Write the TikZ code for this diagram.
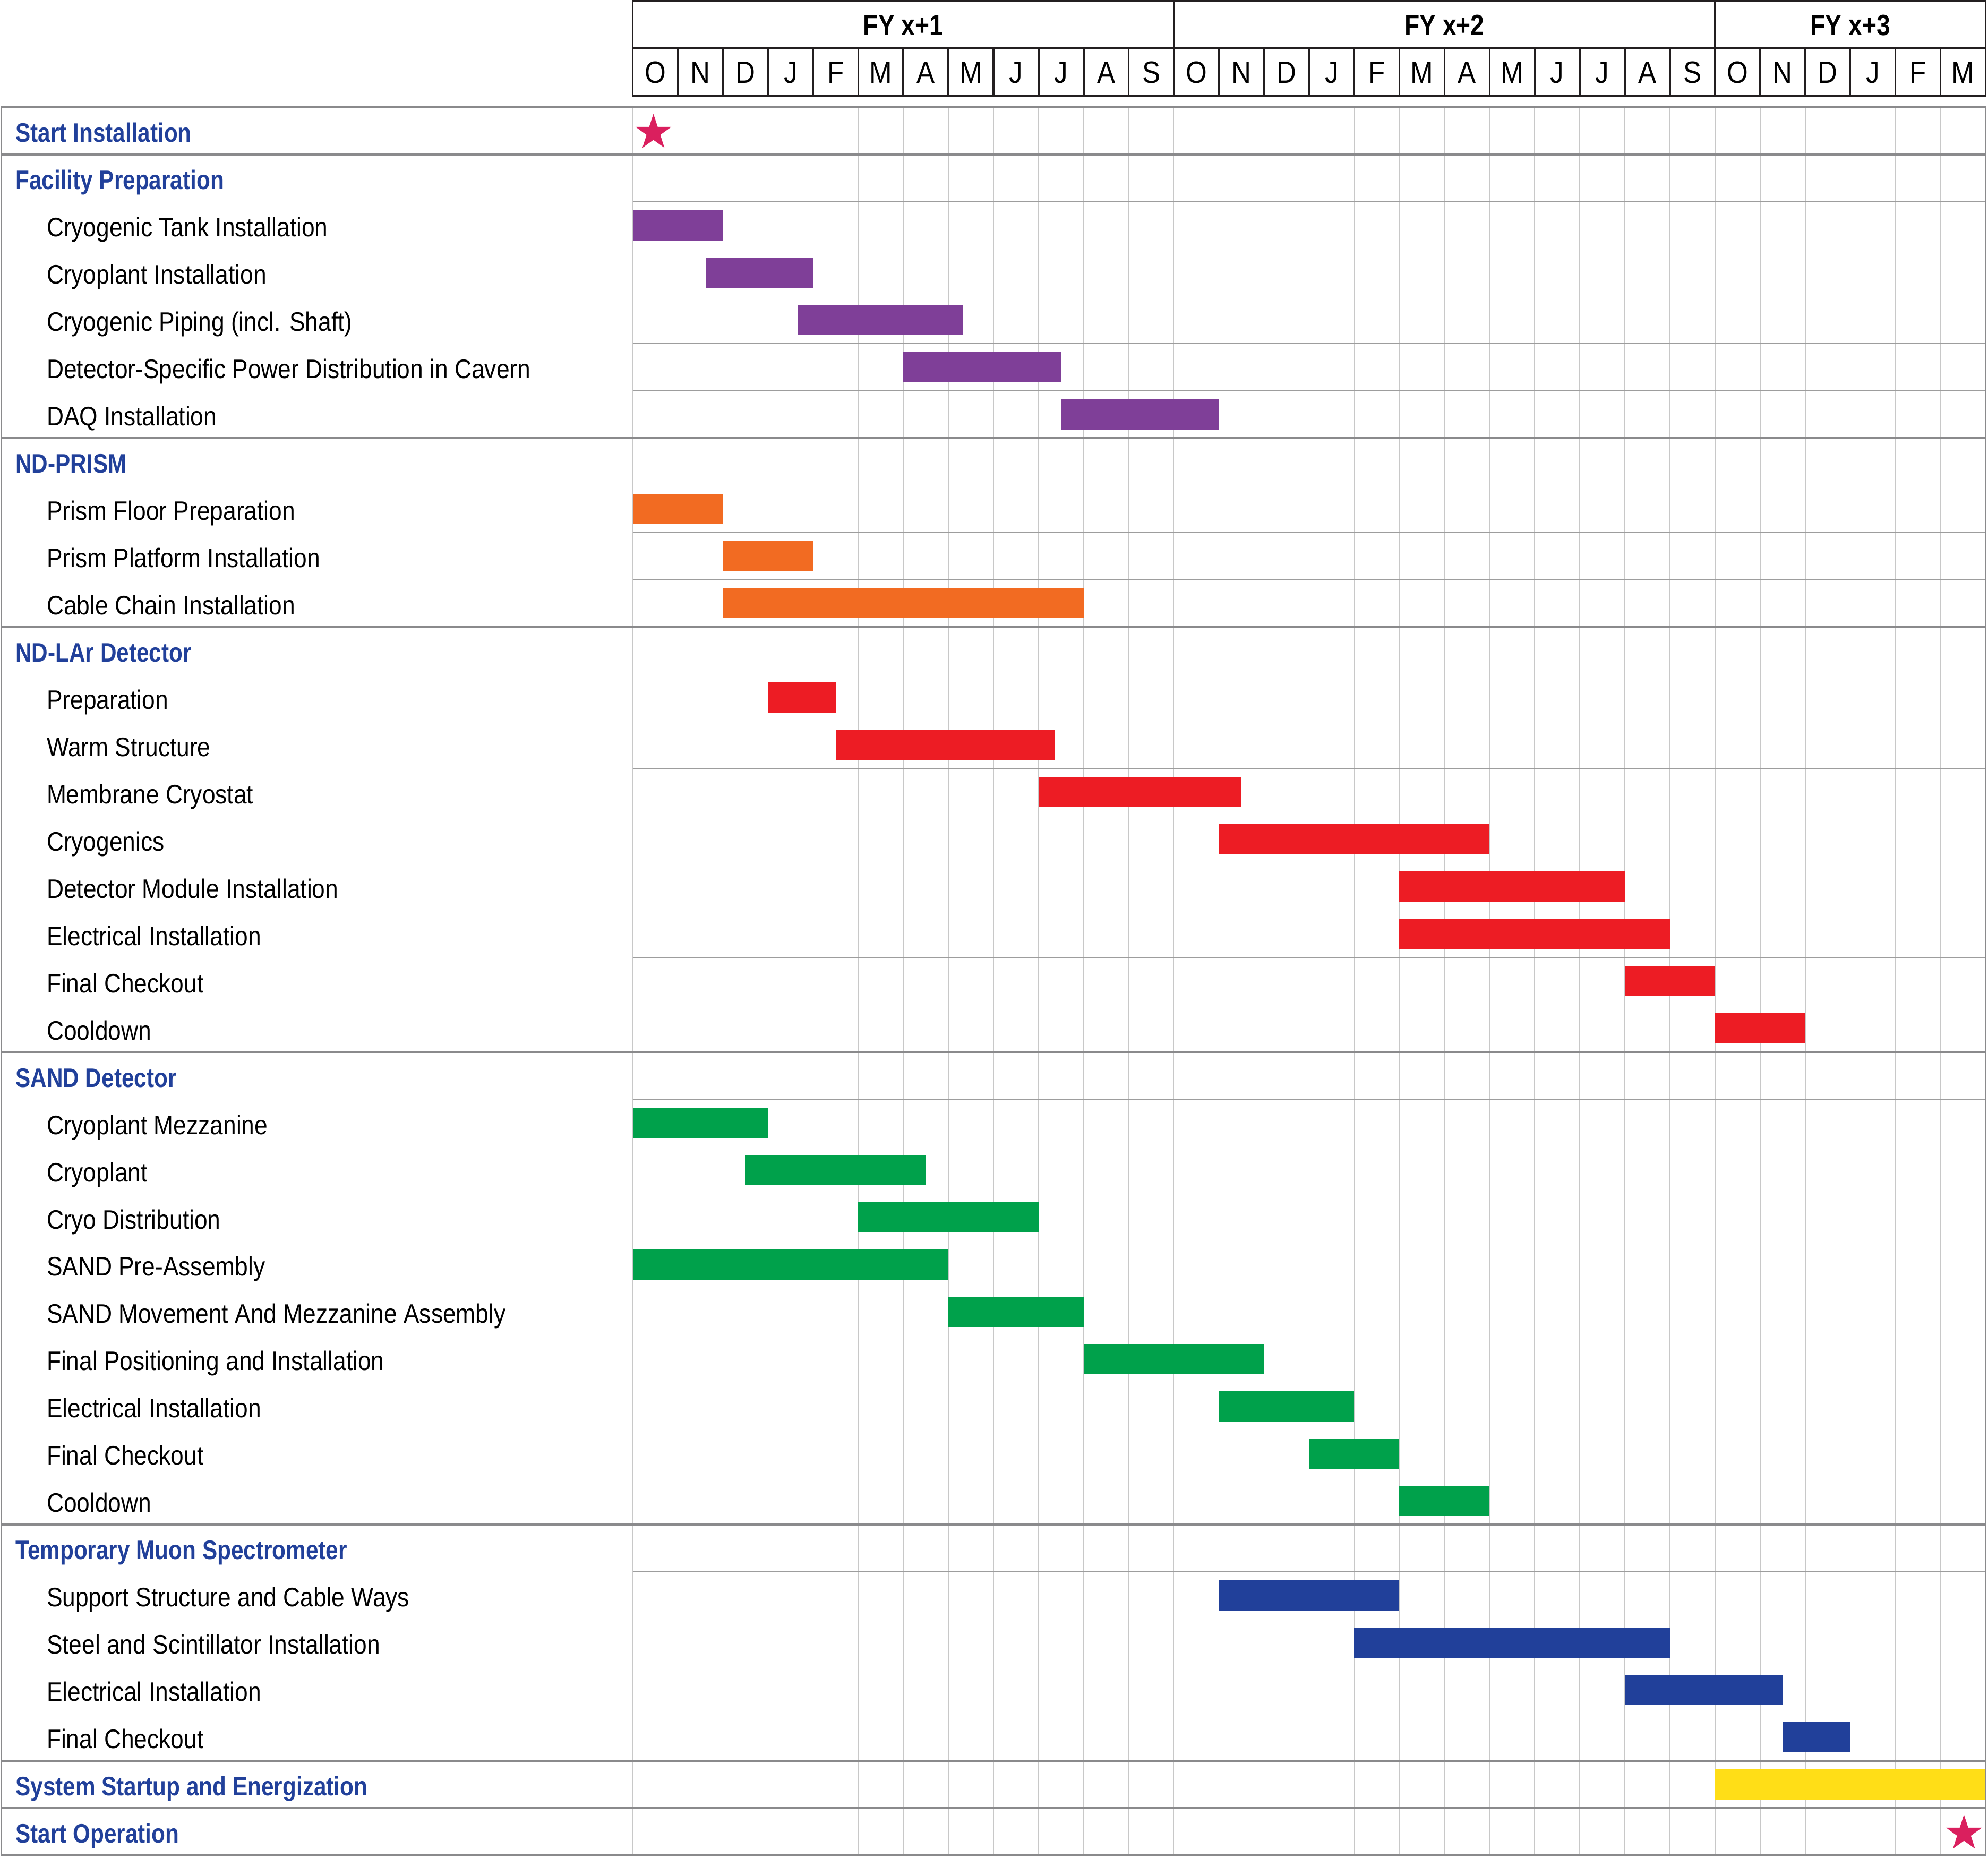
\documentclass[tikz,border=0pt]{standalone}
\usepackage{fontspec}
\setmainfont{Liberation Sans}[FakeStretch=0.88]
\newfontfamily\headfont{Liberation Sans}[FakeStretch=0.84]
\usetikzlibrary{shapes.geometric}
\definecolor{ganttpurple}{HTML}{7F3F98}
\definecolor{ganttorange}{HTML}{F26B22}
\definecolor{ganttred}{HTML}{ED1C24}
\definecolor{ganttgreen}{HTML}{00A14B}
\definecolor{ganttblue}{HTML}{21409A}
\definecolor{ganttyellow}{HTML}{FFDE17}
\definecolor{ganttstar}{HTML}{DA1F5E}
\definecolor{ganttdark}{HTML}{231F20}
\definecolor{gridgray}{HTML}{C8C8C8}
\definecolor{rowgray}{HTML}{9D9D9D}
\definecolor{sectiongray}{HTML}{8A8A8C}
\tikzset{
  gridline/.style={gridgray, line width=0.45pt},
  rowline/.style={rowgray, line width=0.4pt},
  sectionline/.style={sectiongray, line width=1.1pt},
  headline/.style={ganttdark, line width=1pt},
  tasklabel/.style={anchor=base west, inner sep=0pt, font=\fontsize{15}{18}\selectfont},
  headlabel/.style={anchor=base west, inner sep=0pt, text=ganttblue, font=\headfont\bfseries\fontsize{15}{18}\selectfont},
  monthlabel/.style={anchor=base, inner sep=0pt, font=\fontsize{17.3}{20}\selectfont},
  fylabel/.style={anchor=base, inner sep=0pt, font=\headfont\bfseries\fontsize{16.4}{20}\selectfont},
  milestone/.style={star, star points=5, star point ratio=2.6, fill=ganttstar, inner sep=0pt, minimum size=0.74cm}
}

\begin{document}
\begin{tikzpicture}[x=0.8892cm, y=-0.9315cm]
  \useasboundingbox (-14.029,-2.268) rectangle (30.053,37.05);
  % grid
  \foreach \k in {0,...,29}
    \draw[gridline] (\k,0) -- (\k,37);
  \foreach \row in {2,...,6,8,9,10,12,...,19,21,...,29,31,...,34}
    \draw[rowline] (0,\row) -- (30,\row);
  % section titles
  \foreach \row/\txt in {0/Start Installation, 1/Facility Preparation, 7/ND-PRISM,
      11/ND-LAr Detector, 20/SAND Detector, 30/Temporary Muon Spectrometer,
      35/System Startup and Energization, 36/Start Operation}
    \node[headlabel] (head\row) at (-13.69,\row+0.74) {\txt};
  % tasks and bars
  \foreach \row/\st/\en/\barcol/\txt in {
      2/0/2/ganttpurple/Cryogenic Tank Installation,
      3/1.63/4/ganttpurple/Cryoplant Installation,
      4/3.65/7.32/ganttpurple/Cryogenic Piping (incl. Shaft),
      5/6/9.5/ganttpurple/Detector-Specific Power Distribution in Cavern,
      6/9.5/13/ganttpurple/DAQ Installation,
      8/0/2/ganttorange/Prism Floor Preparation,
      9/2/4/ganttorange/Prism Platform Installation,
      10/2/10/ganttorange/Cable Chain Installation,
      12/3/4.5/ganttred/Preparation,
      13/4.5/9.35/ganttred/Warm Structure,
      14/9/13.5/ganttred/Membrane Cryostat,
      15/13/19/ganttred/Cryogenics,
      16/17/22/ganttred/Detector Module Installation,
      17/17/23/ganttred/Electrical Installation,
      18/22/24/ganttred/Final Checkout,
      19/24/26/ganttred/Cooldown,
      21/0/3/ganttgreen/Cryoplant Mezzanine,
      22/2.5/6.5/ganttgreen/Cryoplant,
      23/5/9/ganttgreen/Cryo Distribution,
      24/0/7/ganttgreen/SAND Pre-Assembly,
      25/7/10/ganttgreen/SAND Movement And Mezzanine Assembly,
      26/10/14/ganttgreen/Final Positioning and Installation,
      27/13/16/ganttgreen/Electrical Installation,
      28/15/17/ganttgreen/Final Checkout,
      29/17/19/ganttgreen/Cooldown,
      31/13/17/ganttblue/Support Structure and Cable Ways,
      32/16/23/ganttblue/Steel and Scintillator Installation,
      33/22/25.5/ganttblue/Electrical Installation,
      34/25.5/27/ganttblue/Final Checkout}{
    \node[tasklabel] (task\row) at (-13.0,\row+0.74) {\txt};
    \fill[\barcol] (\st,\row+0.18) rectangle (\en,\row+0.82);
  }
  \fill[ganttyellow] (24,35.18) rectangle (30,35.82);
  % section frame
  \draw[sectionline] (-14.0,0) rectangle (30,37);
  \foreach \row in {1,7,11,20,30,35,36}
    \draw[sectionline] (-14.0,\row) -- (30,\row);
  % header
  \draw[headline] (0,-2.245) rectangle (30,-0.245);
  \draw[headline] (0,-1.245) -- (30,-1.245);
  \foreach \k in {1,...,29}
    \draw[headline] (\k,-1.245) -- (\k,-0.245);
  \draw[headline] (12,-2.245) -- (12,-1.245);
  \draw[headline] (24,-2.245) -- (24,-1.245);
  \node[fylabel] (fy1) at (6,-1.515) {FY x+1};
  \node[fylabel] (fy2) at (18,-1.515) {FY x+2};
  \node[fylabel] (fy3) at (27,-1.515) {FY x+3};
  \foreach \m [count=\k from 0] in {O,N,D,J,F,M,A,M,J,J,A,S,O,N,D,J,F,M,A,M,J,J,A,S,O,N,D,J,F,M}
    \node[monthlabel] (month\k) at (\k+0.5,-0.505) {\m};
  % milestones
  \node[milestone] (startinst) at (0.46,0.54) {};
  \node[milestone] (startop) at (29.52,36.54) {};
\end{tikzpicture}
\end{document}
